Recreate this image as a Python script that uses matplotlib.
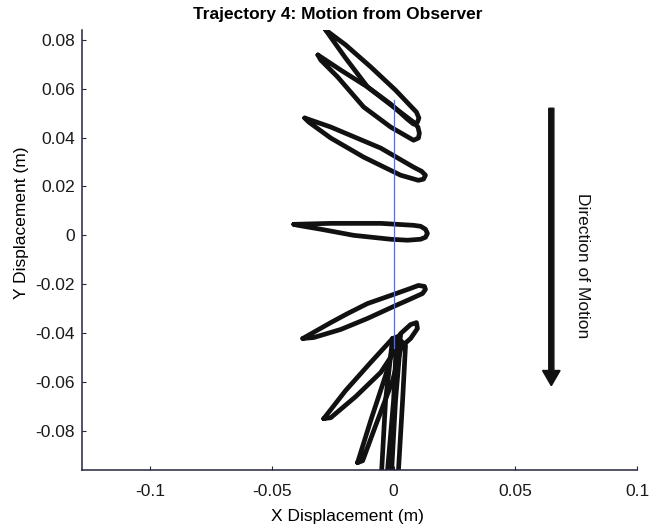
import matplotlib
matplotlib.use('Agg')
import matplotlib.pyplot as plt
import numpy as np

plt.rcParams['font.family'] = ['Liberation Sans', 'DejaVu Sans']

# loop outlines, in mm
loops_x_mm = [
    [-27.9, -19.7, -9.4, 0.8, 7.0, 9.4, 10.4, 9.8, 8.2, 5.7, -1.2, -10.7, -19.7, -25.0, -27.9],
    [-31.1, -21.7, -10.7, 0.0, 8.2, 10.0, 10.6, 10.2, 8.2, -1.2, -12.3, -23.0, -29.9, -31.1],
    [-36.5, -25.8, -5.3, 8.2, 11.5, 13.1, 12.3, 10.2, 2.9, -12.3, -25.8, -34.8, -36.5],
    [-41.0, -25.8, -5.3, 8.2, 11.1, 13.1, 13.9, 13.1, 11.1, 5.7, -1.2, -16.4, -29.9, -39.3, -41.0],
    [-37.3, -25.8, -18.9, -10.7, -1.2, 7.0, 10.2, 12.7, 13.1, 11.9, 5.7, 0.0, -10.7, -21.7, -32.8, -37.3],
    [-0.4, 2.9, 7.0, 9.4, 9.8, 7.0, 3.7, 0.8, -0.4],
    [-28.7, -19.7, -9.4, -0.4, 2.9, 2.0, -5.3, -15.6, -25.8, -28.7],
    [-14.8, -9.4, -3.3, 0.0, 2.0, 3.3, -0.4, -7.4, -12.7, -14.8],
    [-0.4, -3.3, -4.9, -5.7, -3.7, -2.5, 0.0, 1.2, -0.4],
    [2.9, 0.8, -0.8, -1.6, 0.8, 2.0, 3.7, 4.9, 2.9],
]
loops_y_mm = [
    [84.0, 77.9, 68.9, 59.4, 52.9, 50.4, 48.0, 46.3, 45.5, 47.5, 53.7, 60.7, 72.5, 79.9, 84.0],
    [73.8, 67.6, 60.7, 52.5, 46.3, 44.3, 41.8, 39.8, 38.9, 44.3, 52.5, 64.8, 71.7, 73.8],
    [48.0, 44.3, 35.7, 27.9, 26.2, 24.6, 23.0, 22.5, 24.6, 32.0, 39.8, 46.3, 48.0],
    [4.5, 4.9, 4.9, 4.1, 3.7, 2.5, 0.8, -0.8, -1.6, -2.0, -1.6, 0.0, 2.5, 4.1, 4.5],
    [-42.2, -35.7, -32.0, -27.9, -24.6, -21.7, -20.5, -20.9, -22.1, -23.8, -26.6, -29.1, -34.0, -38.5, -41.8, -42.2],
    [-45.1, -40.2, -36.5, -35.7, -38.1, -42.2, -45.1, -47.1, -45.1],
    [-75.0, -63.5, -52.0, -42.2, -41.0, -45.1, -56.1, -66.0, -74.6, -75.0],
    [-93.0, -75.8, -57.4, -45.1, -42.2, -45.1, -59.4, -77.9, -92.2, -93.0],
    [-42.2, -67.6, -96.3, -108.6, -108.6, -96.3, -67.6, -43.0, -42.2],
    [-43.0, -67.6, -96.3, -108.6, -108.6, -96.3, -67.6, -45.1, -43.0],
]

observer_x = [0.0, 0.0]
observer_y = [0.0553, -0.046]

x_ticks = [-0.1, -0.05, 0, 0.05, 0.1]
x_tick_labels = ['-0.1', '-0.05', '0', '0.05', '0.1']
y_ticks = [-0.08, -0.06, -0.04, -0.02, 0, 0.02, 0.04, 0.06, 0.08]
y_tick_labels = ['-0.08', '-0.06', '-0.04', '-0.02', '0', '0.02', '0.04', '0.06', '0.08']

fig = plt.figure(figsize=(6.49, 5.29), dpi=100)
ax = fig.add_axes([82/649, 59/529, 555/649, 440/529])

for lx, ly in zip(loops_x_mm, loops_y_mm):
    ax.plot(np.array(lx)/1000, np.array(ly)/1000, color='#111111', lw=3.4,
            solid_joinstyle='round', solid_capstyle='round')

ax.plot(observer_x, observer_y, color='#4a6cff', lw=0.9)

ax.arrow(0.0648, 0.052, 0, -0.1135, width=0.0021, head_width=0.0072,
         head_length=0.0062, length_includes_head=True, color='#111111')
ax.text(0.0775, -0.0123, 'Direction of Motion', rotation=-90, ha='center',
        va='center', fontsize=12.5, color='#111111')

ax.set_xlim(-0.128, 0.1)
ax.set_ylim(-0.096, 0.084)
ax.set_xticks(x_ticks)
ax.set_xticklabels(x_tick_labels)
ax.set_yticks(y_ticks)
ax.set_yticklabels(y_tick_labels)

for s in ['top', 'right']:
    ax.spines[s].set_visible(False)
for s in ['left', 'bottom']:
    ax.spines[s].set_color('#25253d')
    ax.spines[s].set_linewidth(1.1)
ax.tick_params(axis='both', direction='in', length=3, width=0.8,
               color='#25253d', labelsize=12.5, labelcolor='#1a1a1a')
ax.tick_params(axis='x', pad=10)
ax.tick_params(axis='y', pad=5)

fig.text(338/649, 1 - 15/529, 'Trajectory 4: Motion from Observer',
         ha='center', va='center', fontsize=12.5, fontweight='bold')
fig.text(347/649, 1 - 517/529, 'X Displacement (m)', ha='center',
         va='center', fontsize=12.5)
fig.text(22/649, 1 - 223/529, 'Y Displacement (m)', ha='center',
         va='center', fontsize=12.5, rotation=90)

fig.savefig('out.png', dpi=100)
